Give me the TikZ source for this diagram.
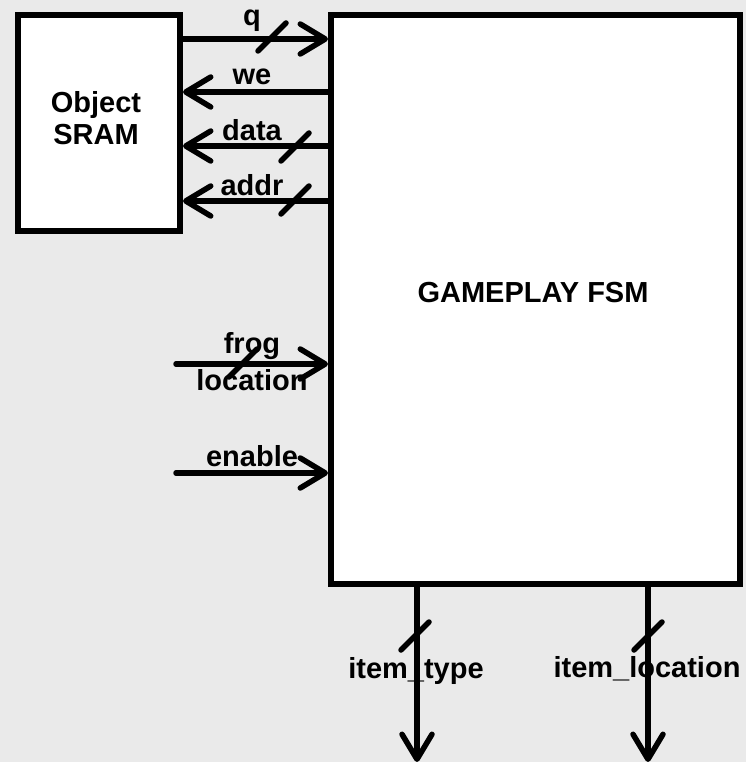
\documentclass[tikz,border=0pt]{standalone}
\usepackage{fontspec}
\setmainfont{Liberation Sans}
\usetikzlibrary{arrows.meta}
\definecolor{bgc}{RGB}{234,234,234}
\tikzset{
  blockbox/.style={draw=black, fill=white, line width=6pt, inner sep=0pt, anchor=north west},
  sig/.style={line width=5.5pt, line cap=round, -{Straight Barb[length=25pt,width=30pt,line cap=round,line join=round]}},
  slashline/.style={line width=5.5pt, line cap=round},
  lbl/.style={font=\bfseries\fontsize{29}{32}\selectfont, inner sep=0pt},
}
\newcommand\busmark[1]{\draw[slashline] (#1) ++(-14,14) -- ++(28,-28);}
\begin{document}
\begin{tikzpicture}[x=1pt,y=-1pt]
\fill[bgc] (0,0) rectangle (746,762);
\useasboundingbox (0,0) rectangle (746,762);
\node[blockbox, minimum width=162pt, minimum height=216pt] (sram) at (15,12) {};
\node[blockbox, minimum width=409pt, minimum height=569pt] (fsm) at (328,12) {};
\node[lbl, align=center] (sramtxt) at (96,118) {Object\\SRAM};
\node[lbl] (fsmtxt) at (533,293) {GAMEPLAY FSM};
% labels
\node[lbl] (lq) at (252,21) {q};
\node[lbl] (lwe) at (252,77) {we};
\node[lbl] (ldata) at (252,130) {data};
\node[lbl] (laddr) at (252,185) {addr};
\node[lbl] (lfrog) at (252,346) {frog};
\node[lbl] (lloc) at (252,380) {location};
\node[lbl] (len) at (252,456) {enable};
\node[lbl] (lit) at (416,671) {item\_type};
\node[lbl] (lil) at (647,669) {item\_location};
% free ends
\coordinate (frogin) at (176,364);
\coordinate (enin) at (176,473);
\coordinate (itend) at (417,762);
\coordinate (ilend) at (648,762);
% connectors
\draw[sig] (sram.east |- 0,39) -- (fsm.west |- 0,39);
\draw[sig] (fsm.west |- 0,92) -- (sram.east |- 0,92);
\draw[sig] (fsm.west |- 0,146) -- (sram.east |- 0,146);
\draw[sig] (fsm.west |- 0,201) -- (sram.east |- 0,201);
\draw[sig] (frogin) -- (fsm.west |- frogin);
\draw[sig] (enin) -- (fsm.west |- enin);
\draw[sig] (fsm.south -| itend) -- (itend);
\draw[sig] (fsm.south -| ilend) -- (ilend);
% bus marks
\busmark{272,37}
\busmark{295,147}
\busmark{295,200}
\busmark{243,363}
\busmark{415,636}
\busmark{648,636}
\end{tikzpicture}
\end{document}
